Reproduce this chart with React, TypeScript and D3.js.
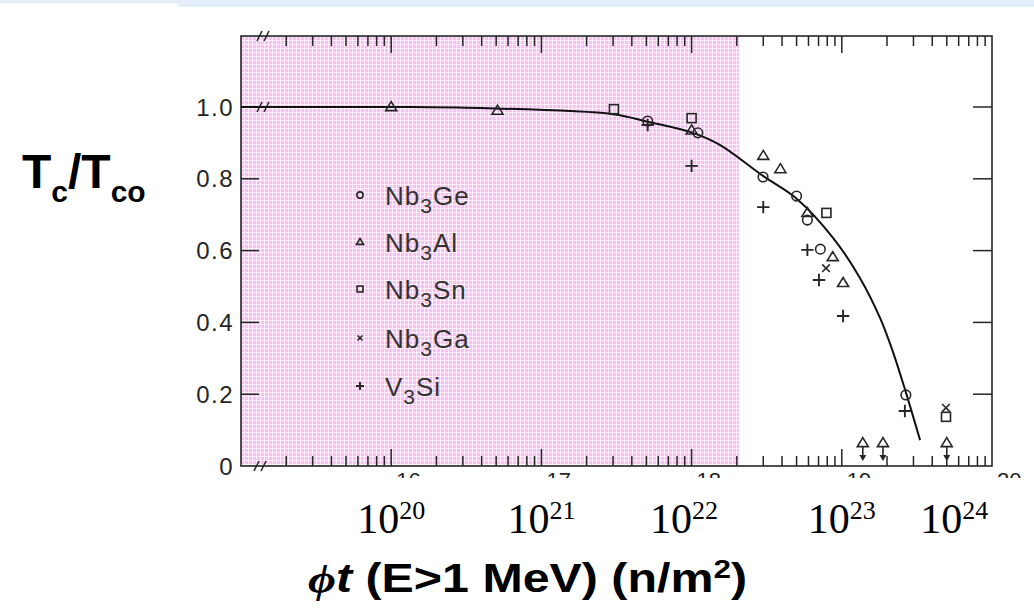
import React from 'react';
import * as d3 from 'd3';

// ---------- data ----------
const seriesNames = ['Nb3Ge', 'Nb3Al', 'Nb3Sn', 'Nb3Ga', 'V3Si'];
const seriesKinds = ['circle', 'triangle', 'square', 'x', 'plus'];

const nb3GeX = [5.1e21, 1.1e22, 2.99e22, 5.0e22, 5.9e22, 7.2e22, 2.67e23];
const nb3GeY = [0.961, 0.928, 0.805, 0.752, 0.685, 0.604, 0.198];

const nb3AlX = [1.0e20, 5.1e20, 1.0e22, 3.0e22, 3.9e22, 5.9e22, 8.7e22, 1.02e23];
const nb3AlY = [1.0, 0.99, 0.935, 0.864, 0.827, 0.705, 0.582, 0.51];

const nb3AlLimitX = [1.38e23, 1.88e23, 5.0e23];
const nb3AlLimitY = [0.064, 0.064, 0.064];
const limitArrowTo = 0.014;

const nb3SnX = [3.04e21, 1.0e22, 7.9e22, 4.94e23];
const nb3SnY = [0.994, 0.969, 0.705, 0.137];

const nb3GaX = [7.85e22, 4.94e23];
const nb3GaY = [0.551, 0.162];

const v3SiX = [5.1e21, 1.0e22, 3.0e22, 5.9e22, 7.05e22, 1.02e23, 2.63e23];
const v3SiY = [0.95, 0.836, 0.721, 0.602, 0.518, 0.418, 0.153];

const fitX = [1e19, 1e20, 3.9e20, 3.0e21, 5.1e21, 1.02e22, 1.55e22, 2.99e22, 5.03e22, 8.77e22, 1.32e23, 1.8e23, 2.19e23, 2.64e23, 3.32e23];
const fitY = [1.0, 1.0, 0.997, 0.98, 0.959, 0.928, 0.894, 0.808, 0.744, 0.635, 0.524, 0.412, 0.318, 0.212, 0.072];

const highlightEnd = 2.07e22; // pink shaded region: from axis start up to this fluence

const yTickValues = [0, 0.2, 0.4, 0.6, 0.8, 1.0];
const yTickLabels = ['0', '0.2', '0.4', '0.6', '0.8', '1.0'];

const xLabelExponents = ['20', '21', '22', '23', '24'];
const xLabelAt = [1e20, 1e21, 8.9e21, 1e23, 5.6e23];

const scanFragments = ['16', '17', '18', '19', '20'];
const scanFragmentAt = [1e20, 1e21, 1e22, 1e23, 1e24];

// ---------- layout ----------
const W = 1034;
const H = 613;
const L = 241, R = 992, T = 36, B = 466;
const INK = '#262626';

const x = d3.scaleLog().domain([1e19, 1e24]).range([L, R]);
const y = d3.scaleLinear().domain([0, 1]).range([B, 107]);

function Marker({ kind, cx, cy, s }: { kind: string; cx: number; cy: number; s: number }) {
  const st = { fill: 'none', stroke: INK, strokeWidth: 1.6 };
  if (kind === 'circle') return <circle cx={cx} cy={cy} r={s * 0.48} {...st} />;
  if (kind === 'triangle') {
    const hw = s * 0.55, h = s * 0.9;
    return <polygon points={`${cx},${cy - h * 0.6} ${cx + hw},${cy + h * 0.4} ${cx - hw},${cy + h * 0.4}`} {...st} />;
  }
  if (kind === 'square') {
    const a = s * 0.45;
    return <rect x={cx - a} y={cy - a} width={2 * a} height={2 * a} {...st} />;
  }
  if (kind === 'x') {
    const a = s * 0.38;
    return <path d={`M${cx - a},${cy - a}L${cx + a},${cy + a}M${cx + a},${cy - a}L${cx - a},${cy + a}`} {...st} />;
  }
  const a = s * 0.62;
  return <path d={`M${cx - a},${cy}L${cx + a},${cy}M${cx},${cy - a}L${cx},${cy + a}`} {...st} strokeWidth={1.9} />;
}

function BreakMark({ cx, cy }: { cx: number; cy: number }) {
  return (
    <g stroke={INK} strokeWidth={1.5}>
      <line x1={cx - 6} y1={cy + 5} x2={cx - 1} y2={cy - 5} />
      <line x1={cx + 1} y1={cy + 5} x2={cx + 6} y2={cy - 5} />
    </g>
  );
}

export default function App() {
  const allSeries = [
    { xs: nb3GeX, ys: nb3GeY },
    { xs: nb3AlX, ys: nb3AlY },
    { xs: nb3SnX, ys: nb3SnY },
    { xs: nb3GaX, ys: nb3GaY },
    { xs: v3SiX, ys: v3SiY },
  ];
  const fitLine = d3
    .line<number>()
    .x((_, i) => x(fitX[i]))
    .y((d) => y(d))
    .curve(d3.curveCatmullRom.alpha(0.5))(fitY) as string;

  const ticks = x.ticks();
  const isMajor = (v: number) => Math.abs(Math.log10(v) - Math.round(Math.log10(v))) < 1e-6;

  const legendRows = [195, 242, 289, 338, 386];

  return (
    <svg width={W} height={H} style={{ position: 'absolute', left: 0, top: 0, background: '#fff' }}>
      <defs>
        <pattern id="pinkgrid" width={4} height={4} patternUnits="userSpaceOnUse">
          <rect width={4} height={4} fill="#f7c2f2" />
          <rect width={4} height={1} fill="#fff" opacity={0.7} />
          <rect width={1} height={4} fill="#fff" opacity={0.7} />
        </pattern>
        <clipPath id="fragclip">
          <rect x={0} y={B + 3} width={W} height={9} />
        </clipPath>
      </defs>

      {/* top banner */}
      <rect x={0} y={0} width={178} height={3.5} fill="#e5eff9" />
      <rect x={178} y={0} width={W - 178} height={7} fill="#e5eff9" />

      {/* pink shaded region */}
      <rect x={L} y={T} width={x(highlightEnd) - L} height={B - T} fill="url(#pinkgrid)" />

      {/* frame */}
      <rect x={L} y={T} width={R - L} height={B - T} fill="none" stroke={INK} strokeWidth={1.6} />

      {/* x ticks top and bottom */}
      {ticks.map((v, i) => {
        const len = isMajor(v) ? 17 : 10;
        const px = x(v);
        if (px < L + 2 || px > R - 1) return null;
        return (
          <g key={i} stroke={INK} strokeWidth={1.5}>
            <line x1={px} x2={px} y1={B} y2={B - len} />
            <line x1={px} x2={px} y1={T} y2={T + len} />
          </g>
        );
      })}

      {/* y ticks left and right */}
      {yTickValues.map((v, i) =>
        v > 0 ? (
          <g key={i} stroke={INK} strokeWidth={1.5}>
            {v < 1 && <line x1={L} x2={L + 18} y1={y(v)} y2={y(v)} />}
            <line x1={R} x2={R - 19} y1={y(v)} y2={y(v)} />
          </g>
        ) : null
      )}

      {/* y tick labels */}
      {yTickValues.map((v, i) => (
        <text key={i} x={234} y={y(v) + 8.5} textAnchor="end" fontFamily="Liberation Sans, Arial, sans-serif" fontSize={24} letterSpacing={1.5} fill={INK}>
          {yTickLabels[i]}
        </text>
      ))}

      {/* break marks */}
      <BreakMark cx={263} cy={T} />
      <BreakMark cx={260} cy={B} />

      {/* fitted curve */}
      <path d={fitLine} fill="none" stroke="#111" strokeWidth={2} />
      <BreakMark cx={263} cy={y(1)} />

      {/* data points */}
      {allSeries.map((s, si) =>
        s.xs.map((xv, i) => <Marker key={`${si}-${i}`} kind={seriesKinds[si]} cx={x(xv)} cy={y(s.ys[i])} s={10} />)
      )}

      {/* upper limits (arrows) */}
      {nb3AlLimitX.map((xv, i) => {
        const px = x(xv);
        const py = y(nb3AlLimitY[i]);
        const tip = y(limitArrowTo);
        return (
          <g key={i}>
            <Marker kind="triangle" cx={px} cy={py} s={10} />
            <line x1={px} x2={px} y1={py + 4} y2={tip - 5} stroke={INK} strokeWidth={1.6} />
            <polygon points={`${px - 3.5},${tip - 6} ${px + 3.5},${tip - 6} ${px},${tip}`} fill={INK} />
          </g>
        );
      })}

      {/* legend */}
      {seriesNames.map((n, i) => {
        const cy = legendRows[i];
        const head = n.startsWith('V') ? 'V' : 'Nb';
        const tail = n.slice(head.length + 1);
        return (
          <g key={n}>
            <Marker kind={seriesKinds[i]} cx={360} cy={cy} s={6.5} />
            <text x={385} y={cy + 10} fontFamily="Liberation Sans, Arial, sans-serif" fontSize={26} fill="#333" letterSpacing={1}>
              {head}
              <tspan fontSize={21} dy={8}>3</tspan>
              <tspan dy={-8}>{tail}</tspan>
            </text>
          </g>
        );
      })}

      {/* scanned original decade label fragments */}
      <g clipPath="url(#fragclip)">
        {scanFragments.map((f, i) => (
          <text key={f} x={x(scanFragmentAt[i]) + 5} y={B + 22} fontFamily="Liberation Sans, Arial, sans-serif" fontSize={22} fill={INK}>
            {f}
          </text>
        ))}
      </g>

      {/* overlaid x labels */}
      {xLabelExponents.map((e, i) => (
        <text key={e} x={x(xLabelAt[i])} y={533} textAnchor="middle" fontFamily="Liberation Serif, Times New Roman, serif" fill="#000">
          <tspan fontSize={42}>10</tspan>
          <tspan fontSize={26} dy={-14}>{e}</tspan>
        </text>
      ))}

      {/* x axis title */}
      <text x={308} y={592} fontFamily="Liberation Sans, Arial, sans-serif" fontWeight="bold" fontSize={40} fill="#000" textLength={439} lengthAdjust="spacingAndGlyphs">
        <tspan fontFamily="Liberation Serif, serif" fontStyle="italic">ϕ</tspan>
        <tspan fontStyle="italic">t</tspan>
        <tspan> (E&gt;1 MeV) (n/m</tspan>
        <tspan fontSize={26} dy={-14}>2</tspan>
        <tspan dy={14}>)</tspan>
      </text>

      {/* y axis title */}
      <text x={22} y={188} fontFamily="Liberation Sans, Arial, sans-serif" fontWeight="bold" fill="#000">
        <tspan fontSize={48}>T</tspan>
        <tspan fontSize={30} dy={14}>c</tspan>
        <tspan fontSize={48} dy={-14}>/T</tspan>
        <tspan fontSize={30} dy={14}>co</tspan>
      </text>
    </svg>
  );
}
